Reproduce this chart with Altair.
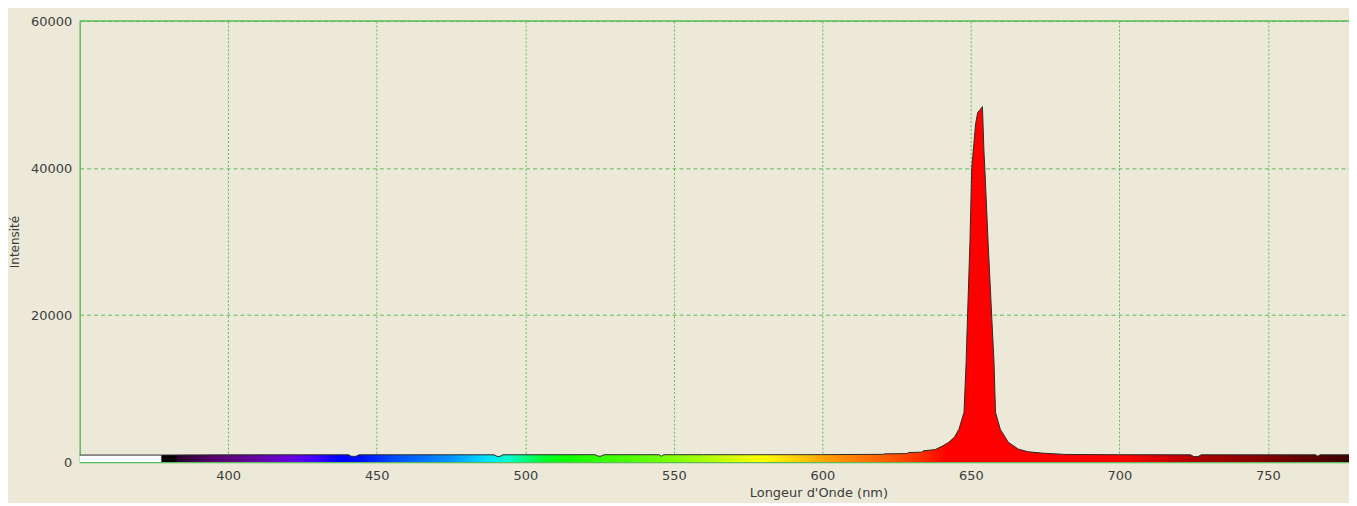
import altair as alt
import pandas as pd

# ---- data ----
wavelength = [
    350, 377.5,
    380, 400, 420, 440.5, 441.5, 443, 444,
    460, 480, 489.5, 490.5, 491.5, 492.5,
    510, 523.5, 524.5, 525.5, 526.5,
    540, 545, 545.8, 546.6, 560, 580, 600, 615, 620.5,
    621, 628.5, 629, 633.5, 634, 638, 640.6, 642.6, 644.5, 646.0, 647.7,
    648.4, 648.9, 649.7, 650.3, 651.6, 652.3, 653.9, 654.4, 654.7, 655.8,
    657.0, 657.8, 658.3, 659.9, 662.6, 666, 669.3, 674, 681.7, 700,
    724, 725, 726.5, 727.5, 750, 766, 766.8, 767.6, 777.3,
]
intensity = [
    950, 950,
    960, 980, 990, 990, 780, 780, 990,
    990, 990, 990, 770, 770, 990,
    1000, 1000, 800, 800, 1000,
    1000, 1000, 780, 1000, 1000, 1000, 1010, 1040, 1050,
    1120, 1150, 1300, 1350, 1530, 1700, 2210, 2700, 3400, 4470, 6770,
    13500, 20000, 30000, 40000, 46000, 47540, 48350, 42400, 40000, 30000,
    20000, 13500, 6770, 4470, 2700, 1760, 1400, 1220, 1040, 1000,
    990, 750, 750, 990, 990, 990, 800, 990, 990,
]
x_ticks = [400, 450, 500, 550, 600, 650, 700, 750]
y_ticks = [0, 20000, 40000, 60000]
visible_start = 377.5
x_min, x_max = 350, 777.3

# ---- style: spectrum colours along the wavelength ----
spectrum_stops = [
    (377.5, "#000000"), (382, "#000000"), (383, "#2a0030"), (395, "#55006a"),
    (405, "#62008e"), (420, "#6a00d8"), (429, "#4400ff"), (437, "#0000ff"),
    (445, "#0010ff"), (457, "#0050ff"), (474, "#0090ff"), (487, "#00e0ff"),
    (494, "#00ffd0"), (501, "#00ff70"), (507.5, "#00ff20"), (515, "#10ff00"),
    (524, "#30ff00"), (541, "#60ff00"), (557.6, "#a0ff00"), (570, "#d8ff00"),
    (580, "#ffff00"), (591, "#ffd000"), (601, "#ffa000"), (614.7, "#ff7000"),
    (625, "#ff5000"), (633, "#ff3000"), (642, "#ff0000"), (702, "#ff0000"),
    (725, "#b00000"), (750, "#800000"), (777.3, "#3a0000"),
]
span = x_max - visible_start
gradient = {
    "gradient": "linear", "x1": 0, "x2": 1, "y1": 0, "y2": 0,
    "stops": [{"offset": round((w - visible_start) / span, 4), "color": c}
              for w, c in spectrum_stops],
}

df = pd.DataFrame({"wl": wavelength, "I": intensity})

W, H = 1275, 443
GREEN = "#5cbc5c"
TXT = "#3c3c3c"

x_enc = alt.X("wl:Q", scale=alt.Scale(domain=[x_min, x_max], nice=False, zero=False),
              axis=alt.Axis(values=x_ticks, title="Longeur d'Onde (nm)", format="d",
                            titleX=742, titleY=35, titleBaseline="alphabetic",
                            titleFontSize=13, gridDash=[2, 2]))
y_enc = alt.Y("I:Q", scale=alt.Scale(domain=[0, 60000], nice=False),
              axis=alt.Axis(values=y_ticks, title="Intensité", format="d",
                            titleX=-61, titleBaseline="alphabetic",
                            gridDash=[4, 3]))

base = alt.Chart(df)

white_part = base.transform_filter(alt.datum.wl <= visible_start).mark_area(
    color="#ffffff").encode(x=x_enc, y=y_enc)
color_part = base.transform_filter(alt.datum.wl >= visible_start).mark_area(
    color=gradient).encode(x=x_enc, y=y_enc)
outline = base.mark_line(color="#2a2a2a", strokeWidth=1).encode(x=x_enc, y=y_enc)

top_rule = alt.Chart(pd.DataFrame({"a": [0]})).mark_rule(
    color=GREEN, strokeWidth=1.5).encode(
    x=alt.value(0), x2=alt.value(W), y=alt.value(0))

chart = alt.layer(white_part, color_part, outline, top_rule).properties(
    width=W, height=H,
    autosize=alt.AutoSizeParams(type="none"),
    padding={"left": 72, "top": 12, "right": 0, "bottom": 40},
    background="#ECE9D8",
).configure_view(stroke=None).configure_axis(
    grid=True, gridColor=GREEN, gridWidth=1, gridOpacity=1,
    domain=True, domainColor=GREEN, domainWidth=1.5,
    ticks=False, labelPadding=8,
    labelFont="DejaVu Sans", labelFontSize=13, labelColor=TXT,
    titleFont="DejaVu Sans", titleFontSize=12, titleFontWeight="normal", titleColor=TXT,
).configure_axisY(labelPadding=8)

chart.save("out.html", embed_options={"renderer": "svg", "actions": False})
